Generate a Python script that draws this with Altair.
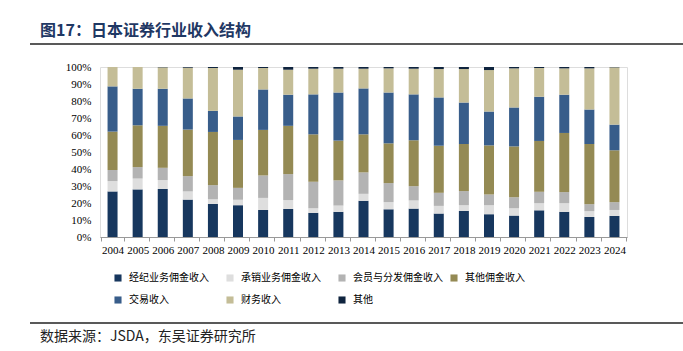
import altair as alt
import pandas as pd

years = [str(y) for y in range(2004, 2025)]
series = ["经纪业务佣金收入", "承销业务佣金收入", "会员与分发佣金收入", "其他佣金收入",
          "交易收入", "财务收入", "其他"]
colors = ["#17375E", "#DEDEDE", "#B3B3B3", "#948A54", "#385D8A", "#C4BD97", "#0F243E"]

brokerage = [26.8, 28.0, 28.3, 22.0, 19.5, 18.7, 15.9, 16.5, 14.2, 14.8, 21.3, 16.3, 16.7, 13.8, 15.4, 13.4, 12.6, 15.7, 14.8, 11.8, 12.4]
underwriting = [6.1, 6.4, 5.2, 4.8, 2.7, 3.2, 7.1, 5.2, 2.7, 3.7, 4.1, 4.2, 4.8, 4.5, 3.3, 5.3, 4.3, 4.2, 5.1, 3.4, 3.5]
distribution = [6.5, 6.7, 7.2, 9.0, 8.3, 7.0, 13.2, 15.3, 15.6, 14.8, 12.6, 11.2, 8.4, 7.7, 8.3, 6.3, 6.5, 6.7, 6.5, 4.1, 4.6]
other_comm = [22.6, 24.6, 24.7, 27.4, 31.3, 28.2, 26.8, 28.4, 27.9, 23.4, 22.4, 23.4, 27.0, 27.7, 27.7, 28.9, 29.9, 29.9, 34.8, 35.4, 30.5]
trading = [26.6, 21.5, 21.8, 18.3, 12.4, 13.8, 23.8, 18.3, 23.5, 28.3, 27.0, 29.9, 27.0, 28.4, 24.4, 19.9, 22.9, 26.0, 22.5, 20.3, 15.1]
financial = [11.4, 12.8, 12.6, 18.1, 25.2, 27.5, 12.6, 14.7, 15.1, 14.0, 11.6, 14.2, 15.1, 16.7, 19.7, 24.4, 23.0, 16.9, 15.5, 24.2, 33.7]
others = [0.0, 0.0, 0.2, 0.4, 0.6, 1.6, 0.6, 1.6, 1.0, 1.0, 1.0, 0.8, 1.0, 1.2, 1.2, 1.8, 0.8, 0.6, 0.8, 0.8, 0.2]

title_text = "图17：日本证券行业收入结构"
source_text = "数据来源：JSDA，东吴证券研究所"

all_series = [brokerage, underwriting, distribution, other_comm, trading, financial, others]
rows = []
for si, (name, vals) in enumerate(zip(series, all_series)):
    for y, v in zip(years, vals):
        rows.append({"year": y, "series": name, "value": v, "order": si})
df = pd.DataFrame(rows)

serif = "Liberation Serif"
cjk = "Noto Sans CJK SC"

bars = alt.Chart(df).mark_bar(size=10).encode(
    x=alt.X("year:N", sort=years, title=None,
            axis=alt.Axis(labelAngle=0, tickBand="extent", domainColor="#999999",
                          tickColor="#999999", tickSize=4, labelFont=serif,
                          labelFontSize=11, labelColor="#000000", labelPadding=3)),
    y=alt.Y("value:Q", stack="zero", title=None,
            scale=alt.Scale(domain=[0, 100], nice=False),
            axis=alt.Axis(values=list(range(0, 101, 10)), labelExpr="datum.value + '%'",
                          grid=False, domain=False, ticks=False, labelFont=serif,
                          labelFontSize=11, labelColor="#000000", labelPadding=9)),
    color=alt.Color("series:N", scale=alt.Scale(domain=series, range=colors),
                    legend=alt.Legend(title=None, orient="none", legendX=13, legendY=206,
                                      direction="horizontal",
                                      columns=4, symbolType="square", symbolSize=50,
                                      symbolStrokeWidth=0, labelFont=cjk, labelFontSize=10,
                                      labelColor="#000000", gridAlign="all",
                                      columnPadding=6, rowPadding=12, labelOffset=6,
                                      padding=0, labelLimit=200)),
    order=alt.Order("order:Q"),
)

tdf = pd.DataFrame({"t": [title_text], "s": [source_text]})
title = alt.Chart(tdf).mark_text(align="left", baseline="alphabetic", fontSize=16,
                                 fontWeight="bold", color="#1F3864", font=cjk).encode(
    x=alt.value(-60), y=alt.value(-31), text="t:N")
title_rule = alt.Chart(tdf).mark_rule(color="#222222", strokeWidth=1.5).encode(
    x=alt.value(-70), x2=alt.value(583), y=alt.value(-23))
source_rule = alt.Chart(tdf).mark_rule(color="#222222", strokeWidth=1.5).encode(
    x=alt.value(-70), x2=alt.value(583), y=alt.value(256))
source = alt.Chart(tdf).mark_text(align="left", baseline="alphabetic", fontSize=14,
                                  color="#222222", font=cjk).encode(
    x=alt.value(-60), y=alt.value(274), text="s:N")

chart = alt.layer(bars, title, title_rule, source_rule, source).properties(
    width=527, height=170,
    autosize=alt.AutoSizeParams(type="none"),
    padding={"left": 100, "top": 67, "right": 56, "bottom": 114},
).configure_view(stroke=None).configure(background="white")

chart.save("out.html", embed_options={"renderer": "svg", "actions": False})
